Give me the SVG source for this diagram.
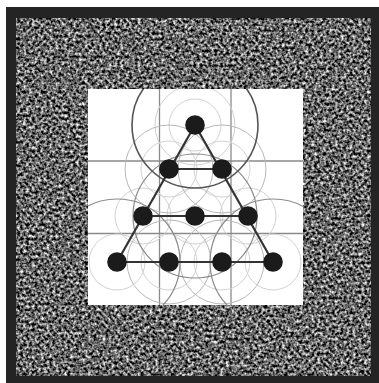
<svg xmlns="http://www.w3.org/2000/svg" width="379" height="383" viewBox="0 0 379 383">
  <defs>
    <filter id="noise" x="0" y="0" width="100%" height="100%" filterUnits="objectBoundingBox" color-interpolation-filters="sRGB">
      <feTurbulence type="fractalNoise" baseFrequency="0.34" numOctaves="2" seed="7" result="t"/>
      <feColorMatrix in="t" type="matrix" values="1.9 0 0 0 -0.55  1.9 0 0 0 -0.55  1.9 0 0 0 -0.55  0 0 0 0 1" result="g"/>
      <feGaussianBlur in="g" stdDeviation="0.4"/>
    </filter>
    <clipPath id="sq"><rect x="88" y="89" width="215" height="216"/></clipPath>
    <style>
      .grid{stroke:#8a8a8a;stroke-width:1.3;fill:none}
      .big{stroke:#555;stroke-width:1.6;fill:none}
      .mid{stroke:#8a8a8a;stroke-width:1.2;fill:none}
      .light{stroke:#b8b8b8;stroke-width:1;fill:none}
      .faint{stroke:#d2d2d2;stroke-width:1;fill:none}
      .edge{stroke:#333;stroke-width:2.2;fill:none}
      .dot{fill:#1b1b1b}
    </style>
  </defs>
  <rect x="0" y="0" width="379" height="383" fill="#ffffff"/>
  <rect x="6" y="7" width="373" height="376" fill="#242424"/>
  <rect x="16" y="18" width="355" height="358" fill="#666" filter="url(#noise)"/>
  <rect x="88" y="89" width="215" height="216" fill="#ffffff"/>
  <g id="grid">
    <line class="grid" x1="159.5" y1="89" x2="159.5" y2="305"/>
    <line class="grid" x1="231" y1="89" x2="231" y2="305"/>
    <line class="grid" x1="88" y1="161" x2="303" y2="161"/>
    <line class="grid" x1="88" y1="233.5" x2="303" y2="233.5"/>
  </g>
  <g id="circles" clip-path="url(#sq)">
    <circle class="faint" cx="195" cy="125" r="26"/>
    <circle class="faint" cx="195" cy="125" r="40"/>
    <circle class="faint" cx="169" cy="169" r="28"/>
    <circle class="faint" cx="222" cy="169" r="28"/>
    <circle class="faint" cx="143" cy="216" r="28"/>
    <circle class="faint" cx="248" cy="216" r="28"/>
    <circle class="faint" cx="195" cy="216" r="28"/>
    <circle class="faint" cx="117" cy="262" r="28"/>
    <circle class="faint" cx="273" cy="262" r="28"/>
    <circle class="faint" cx="169" cy="262" r="28"/>
    <circle class="faint" cx="222" cy="262" r="28"/>
    <circle class="light" cx="169" cy="169" r="44"/>
    <circle class="light" cx="222" cy="169" r="44"/>
    <circle class="light" cx="169" cy="262" r="42"/>
    <circle class="light" cx="222" cy="262" r="42"/>
    <circle class="mid" cx="195" cy="216" r="62"/>
    <circle class="mid" cx="117" cy="262" r="63"/>
    <circle class="mid" cx="273" cy="262" r="63"/>
    <circle class="big" cx="195" cy="125" r="63"/>
  </g>
  <g id="connectors">
    <line class="edge" x1="195" y1="125" x2="117" y2="262"/>
    <line class="edge" x1="195" y1="125" x2="273" y2="262"/>
    <line class="edge" x1="169" y1="169" x2="222" y2="169"/>
    <line class="edge" x1="143" y1="216" x2="248" y2="216"/>
    <line class="edge" x1="117" y1="262" x2="273" y2="262"/>
  </g>
  <g id="dot1"><circle class="dot" cx="195" cy="125" r="9.8"/></g>
  <g id="dot2"><circle class="dot" cx="169" cy="169" r="9.8"/></g>
  <g id="dot3"><circle class="dot" cx="222" cy="169" r="9.8"/></g>
  <g id="dot4"><circle class="dot" cx="143" cy="216" r="9.8"/></g>
  <g id="dot5"><circle class="dot" cx="195" cy="216" r="9.8"/></g>
  <g id="dot6"><circle class="dot" cx="248" cy="216" r="9.8"/></g>
  <g id="dot7"><circle class="dot" cx="117" cy="262" r="9.8"/></g>
  <g id="dot8"><circle class="dot" cx="169" cy="262" r="9.8"/></g>
  <g id="dot9"><circle class="dot" cx="222" cy="262" r="9.8"/></g>
  <g id="dot10"><circle class="dot" cx="273" cy="262" r="9.8"/></g>
</svg>
